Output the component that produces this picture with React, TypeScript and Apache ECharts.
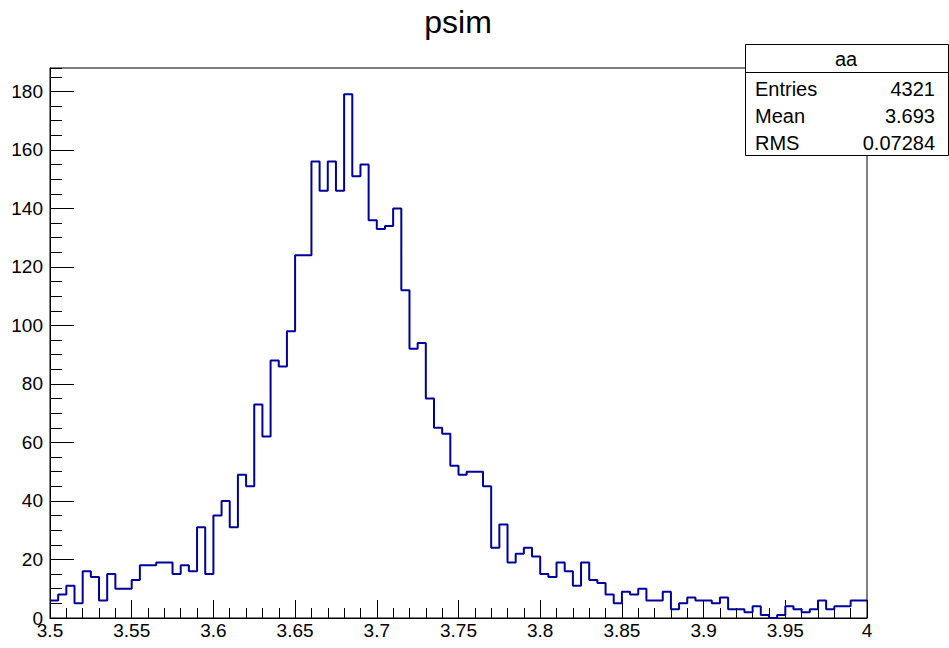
import React, { useEffect, useRef } from "react";
import * as echarts from "echarts";

const histTitle = "psim";
const histName = "aa";
const xMin = 3.5;
const xMax = 4.0;
const binWidth = 0.005;
const yMax = 188;
const xTickLabelStep = 0.05;
const yTickLabelStep = 20;

const binCounts = [
  6, 8, 11, 5, 16, 14, 6, 15, 10, 10,
  13, 18, 18, 19, 19, 15, 18, 16, 31, 15,
  35, 40, 31, 49, 45, 73, 62, 88, 86, 98,
  124, 124, 156, 146, 156, 146, 179, 151, 155, 136,
  133, 134, 140, 112, 92, 94, 75, 65, 63, 52,
  49, 50, 50, 45, 24, 32, 19, 22, 24, 21,
  15, 14, 19, 16, 11, 19, 13, 12, 8, 5,
  9, 8, 10, 6, 6, 9, 3, 5, 7, 6,
  6, 5, 7, 3, 3, 2, 4, 1, 0, 1,
  4, 3, 2, 3, 6, 3, 4, 4, 6, 6,
];

const statsLabels = ["Entries", "Mean", "RMS"];
const statsValues = ["4321", "3.693", "0.07284"];

const FONT = "'Liberation Sans', Arial, Helvetica, sans-serif";

export default function App() {
  const ref = useRef<HTMLDivElement>(null);

  useEffect(() => {
    document.body.style.margin = "0";
    const chart = echarts.init(ref.current!, null, { renderer: "svg" });

    const data: number[][] = binCounts.map((c, i) => [
      +(xMin + i * binWidth).toFixed(4),
      c,
    ]);
    data.push([xMax, binCounts[binCounts.length - 1]]);

    const black = { color: "#000", width: 1 };

    const statsGraphics: any[] = [
      {
        type: "rect",
        z: 100,
        shape: { x: 745.5, y: 44.5, width: 203, height: 111 },
        style: { fill: "#fff", stroke: "#000", lineWidth: 1 },
      },
      {
        type: "line",
        z: 101,
        shape: { x1: 745.5, y1: 72.5, x2: 948.5, y2: 72.5 },
        style: { stroke: "#000", lineWidth: 1 },
      },
      {
        type: "text",
        z: 101,
        x: 846,
        y: 59,
        style: {
          text: histName,
          fill: "#000",
          font: `20px ${FONT}`,
          textAlign: "center",
          textVerticalAlign: "middle",
        },
      },
    ];
    statsLabels.forEach((lab, i) => {
      statsGraphics.push({
        type: "text",
        z: 101,
        x: 755,
        y: 89 + i * 27,
        style: {
          text: lab,
          fill: "#000",
          font: `20px ${FONT}`,
          textAlign: "left",
          textVerticalAlign: "middle",
        },
      });
      statsGraphics.push({
        type: "text",
        z: 101,
        x: 935,
        y: 89 + i * 27,
        style: {
          text: statsValues[i],
          fill: "#000",
          font: `20px ${FONT}`,
          textAlign: "right",
          textVerticalAlign: "middle",
        },
      });
    });

    chart.setOption({
      animation: false,
      backgroundColor: "#fff",
      textStyle: { fontFamily: FONT },
      grid: {
        left: 50,
        right: 82,
        top: 68,
        bottom: 30,
        show: true,
        borderColor: "#000",
        borderWidth: 1,
        backgroundColor: "transparent",
      },
      xAxis: {
        type: "value",
        min: xMin,
        max: xMax,
        interval: xTickLabelStep,
        axisLine: { show: true, onZero: false, lineStyle: black },
        axisTick: { show: true, inside: true, length: 18, lineStyle: black },
        minorTick: { show: true, splitNumber: 5, length: 10, lineStyle: black },
        splitLine: { show: false },
        axisLabel: {
          color: "#000",
          fontSize: 19,
          fontFamily: FONT,
          margin: 3,
          showMinLabel: true,
          showMaxLabel: true,
          formatter: (v: number) => String(parseFloat(v.toFixed(2))),
        },
      },
      yAxis: [
        {
          type: "value",
          min: 0,
          max: yMax,
          interval: yTickLabelStep,
          position: "left",
          axisLine: { show: true, lineStyle: black },
          axisTick: { show: true, inside: true, length: 24, lineStyle: black },
          splitLine: { show: false },
          axisLabel: {
            color: "#000",
            fontSize: 19,
            fontFamily: FONT,
            margin: 7,
            showMaxLabel: false,
          },
        },
        {
          type: "value",
          min: 0,
          max: yMax,
          interval: 5,
          position: "left",
          offset: 0,
          axisLine: { show: false },
          axisTick: { show: true, inside: true, length: 12, lineStyle: black },
          splitLine: { show: false },
          axisLabel: { show: false },
        },
      ],
      series: [
        {
          type: "line",
          yAxisIndex: 0,
          step: "end",
          data,
          symbol: "none",
          silent: true,
          clip: true,
          lineStyle: { color: "#000099", width: 2 },
          itemStyle: { color: "#000099" },
        },
      ],
      graphic: [
        {
          type: "text",
          z: 100,
          x: 458,
          y: 22,
          style: {
            text: histTitle,
            fill: "#000",
            font: `32px ${FONT}`,
            textAlign: "center",
            textVerticalAlign: "middle",
          },
        },
        ...statsGraphics,
      ],
    });

    return () => chart.dispose();
  }, []);

  return <div ref={ref} style={{ width: 949, height: 648 }} />;
}
